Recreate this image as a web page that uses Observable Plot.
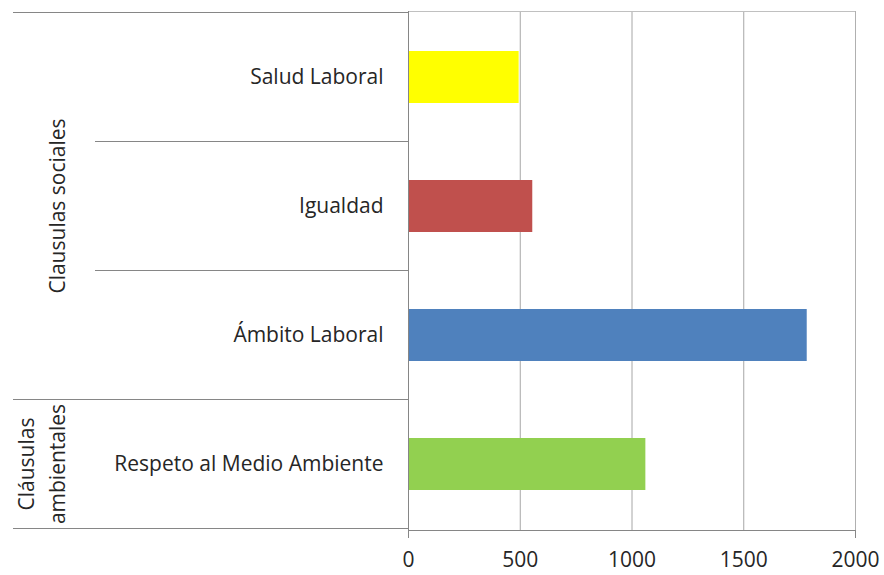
<!DOCTYPE html>
<html><head><meta charset="utf-8">
<script src="https://cdn.jsdelivr.net/npm/d3@7"></script>
<script src="https://cdn.jsdelivr.net/npm/@observablehq/plot@0.6"></script>
<style>body{margin:0;background:#fff} svg{display:block}</style>
</head><body><div id="chart"></div>
<script>
const categories = ["Salud Laboral", "Igualdad", "Ámbito Laboral", "Respeto al Medio Ambiente"];
const values = [495, 556, 1784, 1062];
const colors = ["#FFFF00", "#C0504D", "#4F81BD", "#92D050"];
const groupNames = [["Clausulas sociales"], ["Cláusulas", "ambientales"]];
const groupMembers = [["Salud Laboral", "Igualdad", "Ámbito Laboral"], ["Respeto al Medio Ambiente"]];
const xTicks = [0, 500, 1000, 1500, 2000];

const data = categories.map((c, i) => ({category: c, value: values[i], color: colors[i]}));
const FONT = "'Open Sans', Lato, sans-serif";
const TEXT = "#262626";
const FS = 21;

const chart = Plot.plot({
  width: 884, height: 575,
  marginLeft: 408, marginRight: 29, marginTop: 11, marginBottom: 45,
  style: {fontFamily: FONT, fontSize: FS + "px", color: TEXT, background: "#fff"},
  x: {domain: [0, 2000], axis: null},
  y: {domain: categories, paddingInner: 0.6, paddingOuter: 0.3, axis: null},
  color: {type: "identity"},
  marks: [
    Plot.gridX(xTicks.filter(d => d > 0 && d < 2000), {stroke: "#a6a6a6", strokeOpacity: 1}),
    Plot.frame({anchor: "top", stroke: "#c0c0c0"}),
    Plot.frame({anchor: "right", stroke: "#b0b0b0"}),
    Plot.barX(data, {x: "value", y: "category", fill: "color"}),
    Plot.ruleX([0], {stroke: "#868686"}),
    Plot.frame({anchor: "bottom", stroke: "#868686"}),
    Plot.axisX(xTicks, {tickSize: 0, tickPadding: 22, tickFormat: d => String(d), fill: TEXT, fontSize: FS, label: null}),
    Plot.axisX([0, 2000], {tickSize: 8, text: null, stroke: "#868686", label: null}),
    Plot.axisY(categories, {tickSize: 0, tickPadding: 25, fill: TEXT, fontSize: FS, label: null})
  ]
});
document.getElementById("chart").append(chart);

// Group separators and labels in the left margin, positioned from Plot's y scale
const ys = chart.scale("y");
const step = ys.step, bw = ys.bandwidth;
const bandTop = c => ys.apply(c) - (step - bw) / 2;
const svg = d3.select(chart);
const g = svg.append("g");
const axisX0 = 408;
const outerLeft = 13, innerLeft = 95;
groupMembers.forEach((members, gi) => {
  const top = bandTop(members[0]);
  const bottom = bandTop(members[members.length - 1]) + step;
  g.append("line").attr("x1", outerLeft).attr("x2", axisX0).attr("y1", top).attr("y2", top)
    .attr("stroke", "#868686");
  members.slice(1).forEach(m => {
    const y = bandTop(m);
    g.append("line").attr("x1", innerLeft).attr("x2", axisX0).attr("y1", y).attr("y2", y)
      .attr("stroke", "#868686");
  });
  if (gi === groupMembers.length - 1) {
    g.append("line").attr("x1", outerLeft).attr("x2", axisX0).attr("y1", bottom).attr("y2", bottom)
      .attr("stroke", "#868686");
  }
  const cy = (top + bottom) / 2;
  const lines = groupNames[gi];
  const lh = 31;
  const cx = 58;
  lines.forEach((t, li) => {
    const x = cx - (lines.length - 1 - li) * lh;
    g.append("text").attr("transform", `translate(${x},${cy}) rotate(-90)`)
      .attr("text-anchor", "middle").attr("dy", "0.35em")
      .attr("font-family", FONT).attr("font-size", FS).attr("fill", TEXT).text(t);
  });
});
</script>
</body></html>
